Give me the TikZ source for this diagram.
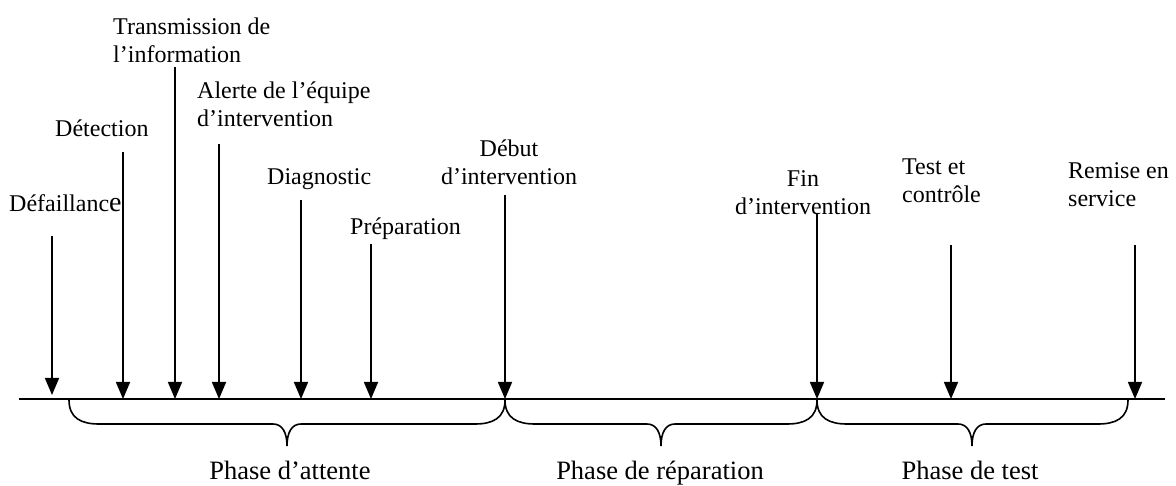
\documentclass[tikz,border=0pt]{standalone}
\usepackage{fontspec}
\setmainfont{Liberation Serif}
\usetikzlibrary{arrows.meta}
\begin{document}
\begin{tikzpicture}[x=1pt,y=-1pt,
  lbl/.style={font=\fontsize{24}{28}\selectfont, inner sep=0pt, align=left, anchor=base west},
  clbl/.style={font=\fontsize{24}{28}\selectfont, inner sep=0pt, align=center, anchor=base},
  phase/.style={font=\fontsize{26.5}{30}\selectfont, inner sep=0pt, anchor=base},
  evt/.style={line width=1.6pt, -{Triangle[width=14pt,length=17pt]}},
  axis/.style={line width=1.6pt},
  brc/.style={line width=1.6pt}]
\useasboundingbox (0,0) rectangle (1176,486);

% time axis
\coordinate (axL) at (19,399);
\coordinate (axR) at (1165,399);
\draw[axis] (axL) -- (axR);

% event labels (multi-line labels are placed by the baseline of their last line)
\node[lbl] (defa) at (9,212) {Défaillanc{\fontsize{28}{28}\selectfont e}};
\node[lbl] (dete) at (55,137) {Détection};
\node[lbl] (tran) at (113,63) {Transmission de\\l’information};
\node[lbl] (aler) at (197,127) {Alerte de l’équipe\\d’intervention};
\node[lbl] (diag) at (267,185) {Diagnostic};
\node[lbl] (prep) at (350,235) {Préparation};
\node[clbl] (debu) at (509,185) {Début\\d’intervention};
\node[clbl] (fin) at (803,215) {Fin\\d’intervention};
\node[lbl] (test) at (902,203) {Test et\\contrôle};
\node[lbl] (remi) at (1068,207) {Remise en\\service};

% arrow start points
\coordinate (s1) at (52,236);
\coordinate (s2) at (123,152);
\coordinate (s3) at (175,67);
\coordinate (s4) at (219,144);
\coordinate (s5) at (301,200);
\coordinate (s6) at (371,244);
\coordinate (s7) at (505,195);
\coordinate (s8) at (817,213);
\coordinate (s9) at (951,245);
\coordinate (s10) at (1135,245);

% arrow end points on the axis
\coordinate (e1) at (52,395);
\coordinate (e2) at (123,399);
\coordinate (e3) at (175,399);
\coordinate (e4) at (219,399);
\coordinate (e5) at (301,399);
\coordinate (e6) at (371,399);
\coordinate (e7) at (505,399);
\coordinate (e8) at (817,399);
\coordinate (e9) at (951,399);
\coordinate (e10) at (1135,399);

\foreach \i in {1,...,10} \draw[evt] (s\i) -- (e\i);

% phase braces: left end, right end, tip
\newcommand{\phasebrace}[3]{%
  \draw[brc] (#1,400) .. controls (#1,418) and ({#1+12},424) .. ({#1+30},424)
    -- ({#3-14},424) .. controls ({#3-5},424) and (#3,432) .. (#3,446)
    .. controls (#3,432) and ({#3+5},424) .. ({#3+14},424)
    -- ({#2-30},424) .. controls ({#2-12},424) and (#2,418) .. (#2,400);}
\phasebrace{69}{505}{287}
\phasebrace{505}{817}{661}
\phasebrace{817}{1128}{972}

% phase names
\node[phase] (pa) at (290,479) {Phase d’attente};
\node[phase] (pr) at (660,479) {Phase de réparation};
\node[phase] (pt) at (970,479) {Phase de test};
\end{tikzpicture}
\end{document}
